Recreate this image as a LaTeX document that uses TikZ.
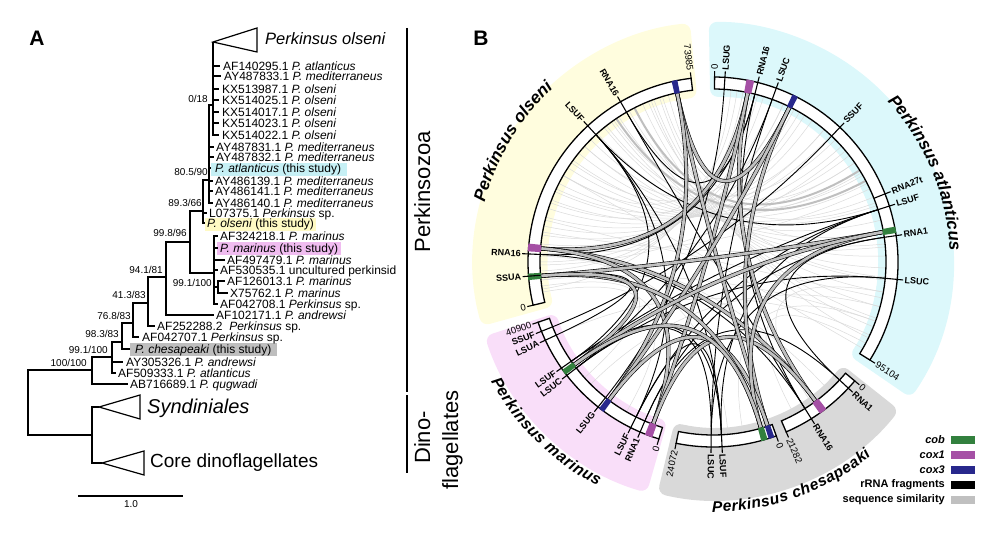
\documentclass[tikz,border=0pt]{standalone}
\usepackage{fontspec}
\setmainfont{Liberation Sans}
\usetikzlibrary{decorations.text}
\definecolor{cobc}{RGB}{50,128,62}
\definecolor{coxa}{RGB}{165,80,165}
\definecolor{coxc}{RGB}{40,40,140}
\definecolor{simg}{RGB}{192,192,192}
\definecolor{bgyel}{RGB}{255,253,222}
\definecolor{bgcya}{RGB}{220,248,251}
\definecolor{bgpnk}{RGB}{249,222,249}
\definecolor{bggry}{RGB}{217,217,217}
\definecolor{hlcya}{RGB}{198,240,245}
\definecolor{hlyel}{RGB}{255,250,196}
\definecolor{hlpnk}{RGB}{240,188,240}
\definecolor{hlgry}{RGB}{190,190,190}
\newcommand{\myleaf}{\fontsize{12}{12}\selectfont}
\newcommand{\mysupp}{\fontsize{10}{10}\selectfont}
\newcommand{\mytick}{\fontsize{9}{9}\selectfont\bfseries}
\newcommand{\mynum}{\fontsize{9.5}{9.5}\selectfont}
\newcommand{\myspec}{\fontsize{17}{17}\selectfont\bfseries\itshape}
\newcommand{\myspecb}{\fontsize{16}{16}\selectfont\bfseries\itshape}
\newcommand{\myspecc}{\fontsize{15.5}{15.5}\selectfont\bfseries\itshape}
\newcommand{\mylegend}{\fontsize{11}{11}\selectfont\bfseries}
\newcommand{\chd}[3][]{\draw[#1] (#2:173pt) .. controls (#2:57.7pt) and (#3:57.7pt) .. (#3:173pt);}
\newcommand{\annul}[5][]{\path[#1] (#2:#4) arc (#2:#3:#4) -- (#3:#5) arc (#3:#2:#5) -- cycle;}
\newcommand{\tickR}[2]{\draw[tk] (#1:173pt) -- (#1:191pt) node[tl, anchor=west, rotate=#1] {#2};}
\newcommand{\tickL}[2]{\draw[tk] (#1:173pt) -- (#1:191pt) node[tl, anchor=east, rotate=#1-180] {#2};}
\newcommand{\posR}[2]{\draw[tk] (#1:185pt) -- (#1:191pt) node[nl, anchor=west, rotate=#1] {#2};}
\newcommand{\posL}[2]{\draw[tk] (#1:185pt) -- (#1:191pt) node[nl, anchor=east, rotate=#1-180] {#2};}
\tikzset{
  br/.style={line width=1.2pt},
  leaf/.style={anchor=base west, inner sep=0pt, font=\myleaf},
  supp/.style={anchor=base east, inner sep=0pt, font=\mysupp},
  ring/.style={draw=black, line width=1.3pt, fill=white},
  blk/.style={draw=black, line width=0.9pt},
  simil/.style={draw=gray!28, line width=0.5pt},
  band/.style={draw=gray!50, line width=2pt},
  ribbon/.style={draw=black, line width=0.6pt, double=simg, double distance=2.8pt},
  tk/.style={line width=1.1pt},
  tl/.style={font=\mytick, inner sep=1pt},
  nl/.style={font=\mynum, inner sep=1pt},
  lgt/.style={font=\mylegend, anchor=east, inner sep=0pt}
}
\begin{document}
\begin{tikzpicture}[x=1pt,y=1pt]
\useasboundingbox (0,0) rectangle (1000,-537);

% ---------------- panel letters
\node[font=\fontsize{21}{21}\selectfont\bfseries] (pA) at (37,-38) {A};
\node[font=\fontsize{21}{21}\selectfont\bfseries] (pB) at (481,-38) {B};

% ---------------- tree
\fill[hlcya] (211,-163) rectangle (347,-176);
\fill[hlyel] (205,-218) rectangle (316,-231);
\fill[hlpnk] (217,-242) rectangle (341,-255);
\fill[hlgry] (130,-343) rectangle (277,-356);

\coordinate (root) at (28,-402);
\coordinate (n100) at (92,-370);
\coordinate (ndin) at (92,-435);
\coordinate (synA) at (99,-407);
\coordinate (corA) at (102,-463);
\coordinate (n991) at (112,-357);
\coordinate (n983) at (122,-342);
\coordinate (n768) at (133,-323);
\coordinate (n413) at (148,-303);
\coordinate (n941) at (166,-277);
\coordinate (n998) at (190,-242);
\coordinate (n893) at (203,-211);
\coordinate (n99b) at (214,-273);
\coordinate (nsub) at (218,-287);
\coordinate (n805) at (209,-180);
\coordinate (n018) at (213,-105);
\coordinate (olsA) at (213,-42);
\coordinate (t1) at (220,-66);
\coordinate (t2) at (221,-76);
\coordinate (t3) at (219,-89);
\coordinate (t4) at (219,-100);
\coordinate (t5) at (219,-112);
\coordinate (t6) at (219,-123);
\coordinate (t7) at (219,-135);
\coordinate (t8) at (214,-147);
\coordinate (t9) at (214,-157);
\coordinate (t10) at (211,-168);
\coordinate (t11) at (213,-181);
\coordinate (t12) at (213,-191);
\coordinate (t13) at (213,-203);
\coordinate (t14) at (207,-213);
\coordinate (t15) at (205,-223);
\coordinate (t16) at (218,-236);
\coordinate (t17) at (218,-248);
\coordinate (t18) at (225,-260);
\coordinate (t19) at (218,-270);
\coordinate (t20) at (225,-281);
\coordinate (t21) at (228,-293);
\coordinate (t22) at (218,-304);
\coordinate (t23) at (214,-315);
\coordinate (t24) at (155,-326);
\coordinate (t25) at (139,-337);
\coordinate (t26) at (130,-349);
\coordinate (t27) at (123,-362);
\coordinate (t28) at (116,-373);
\coordinate (t29) at (128,-384);

\draw[br] (root) |- (n100);
\draw[br] (root) |- (ndin);
\draw[br] (ndin) |- (synA);
\draw[br] (ndin) |- (corA);
\draw[br] (synA) -- (140,-395) -- (140,-419) -- cycle;
\draw[br] (corA) -- (144,-451) -- (144,-475) -- cycle;
\draw[br] (n100) |- (n991);
\draw[br] (n100) |- (t29);
\draw[br] (n991) |- (n983);
\draw[br] (n991) |- (t27);
\draw[br] (n991) |- (t28);
\draw[br] (n983) |- (n768);
\draw[br] (n983) |- (t26);
\draw[br] (n768) |- (n413);
\draw[br] (n768) |- (t25);
\draw[br] (n413) |- (n941);
\draw[br] (n413) |- (t24);
\draw[br] (n941) |- (n998);
\draw[br] (n941) |- (t23);
\draw[br] (n998) |- (n893);
\draw[br] (n998) |- (n99b);
\foreach \t in {t16,t17,t18,t19,nsub,t22} {\draw[br] (n99b) |- (\t);}
\draw[br] (nsub) |- (t20);
\draw[br] (nsub) |- (t21);
\draw[br] (n893) |- (n805);
\draw[br] (n893) |- (t14);
\draw[br] (n893) |- (t15);
\foreach \t in {n018,t8,t9,t10,t11,t12,t13} {\draw[br] (n805) |- (\t);}
\foreach \t in {olsA,t1,t2,t3,t4,t5,t6,t7} {\draw[br] (n018) |- (\t);}
\draw[br] (olsA) -- (257,-28) -- (257,-52) -- cycle;

\node[anchor=base west, inner sep=0pt, font=\fontsize{16.5}{16.5}\selectfont\itshape] (cOls) at (265,-44.5) {Perkinsus olseni};
\node[anchor=base west, inner sep=0pt, font=\fontsize{20}{20}\selectfont\itshape] (cSyn) at (147,-413) {Syndiniales};
\node[anchor=base west, inner sep=0pt, font=\fontsize{19}{19}\selectfont] (cCor) at (150,-467) {Core dinoflagellates};

\node[leaf] (L1) at (223,-70.3) {AF140295.1 \textit{P. atlanticus}};
\node[leaf] (L2) at (224,-80.3) {AY487833.1 \textit{P. mediterraneus}};
\node[leaf] (L3) at (222,-93.3) {KX513987.1 \textit{P. olseni}};
\node[leaf] (L4) at (222,-104.3) {KX514025.1 \textit{P. olseni}};
\node[leaf] (L5) at (222,-116.3) {KX514017.1 \textit{P. olseni}};
\node[leaf] (L6) at (222,-127.3) {KX514023.1 \textit{P. olseni}};
\node[leaf] (L7) at (222,-139.3) {KX514022.1 \textit{P. olseni}};
\node[leaf] (L8) at (216,-151.3) {AY487831.1 \textit{P. mediterraneus}};
\node[leaf] (L9) at (216,-161.3) {AY487832.1 \textit{P. mediterraneus}};
\node[leaf] (L10) at (215,-172.3) {\textit{P. atlanticus} (this study)};
\node[leaf] (L11) at (215,-185.3) {AY486139.1 \textit{P. mediterraneus}};
\node[leaf] (L12) at (215,-195.3) {AY486141.1 \textit{P. mediterraneus}};
\node[leaf] (L13) at (215,-207.3) {AY486140.1 \textit{P. mediterraneus}};
\node[leaf] (L14) at (209,-217.3) {L07375.1 \textit{Perkinsus} sp.};
\node[leaf] (L15) at (207,-227.3) {\textit{P. olseni} (this study)};
\node[leaf] (L16) at (220,-240.3) {AF324218.1 \textit{P. marinus}};
\node[leaf] (L17) at (220,-252.3) {\textit{P. marinus} (this study)};
\node[leaf] (L18) at (227,-264.3) {AF497479.1 \textit{P. marinus}};
\node[leaf] (L19) at (220,-274.3) {AF530535.1 uncultured perkinsid};
\node[leaf] (L20) at (227,-285.3) {AF126013.1 \textit{P. marinus}};
\node[leaf] (L21) at (230,-297.3) {X75762.1 \textit{P. marinus}};
\node[leaf] (L22) at (220,-308.3) {AF042708.1 \textit{Perkinsus} sp.};
\node[leaf] (L23) at (216,-319.3) {AF102171.1 \textit{P. andrewsi}};
\node[leaf] (L24) at (157,-330.3) {AF252288.2\ \ \textit{Perkinsus} sp.};
\node[leaf] (L25) at (142,-341.3) {AF042707.1 \textit{Perkinsus} sp.};
\node[leaf] (L26) at (135,-353.3) {\textit{P. chesapeaki} (this study)};
\node[leaf] (L27) at (126,-366.3) {AY305326.1 \textit{P. andrewsi}};
\node[leaf] (L28) at (118,-377.3) {AF509333.1 \textit{P. atlanticus}};
\node[leaf] (L29) at (130,-388.3) {AB716689.1 \textit{P. qugwadi}};

\node[supp] (s1) at (208,-102.6) {0/18};
\node[supp] (s2) at (208,-175.6) {80.5/90};
\node[supp] (s3) at (202,-206.6) {89.3/66};
\node[supp] (s4) at (187,-236.6) {99.8/96};
\node[supp] (s5) at (163,-273.6) {94.1/81};
\node[supp] (s6) at (146,-298.6) {41.3/83};
\node[supp] (s7) at (131,-319.6) {76.8/83};
\node[supp] (s8) at (119,-337.6) {98.3/83};
\node[supp] (s9) at (108,-353.6) {99.1/100};
\node[supp] (s10) at (87,-366.6) {100/100};
\node[supp] (s11) at (212,-286.6) {99.1/100};

\coordinate (sbL) at (78,-496);
\coordinate (sbR) at (183,-496);
\draw[line width=1.1pt] (sbL) -- (sbR);
\node[font=\mysupp] (sbT) at (131,-504) {1.0};

\coordinate (pzT) at (407,-28);
\coordinate (pzB) at (407,-392);
\coordinate (dnT) at (407,-395);
\coordinate (dnB) at (407,-473);
\draw[line width=1.2pt] (pzT) -- (pzB);
\draw[line width=1.2pt] (dnT) -- (dnB);
\node[rotate=90, anchor=base, inner sep=0pt, font=\fontsize{22}{22}\selectfont] (gPz) at (430,-192) {Perkinsozoa};
\node[rotate=90, anchor=base, inner sep=0pt, font=\fontsize{22}{22}\selectfont] (gD1) at (430,-437.5) {Dino-};
\node[rotate=90, anchor=base, inner sep=0pt, font=\fontsize{22}{22}\selectfont] (gD2) at (458,-440) {flagellates};

% ---------------- circos
\begin{scope}[shift={(713,-262)}]
\annul[fill=bgyel, rounded corners=8pt]{95.5}{195.5}{165pt}{240pt}
\annul[fill=bgcya, rounded corners=8pt]{91}{-34.5}{165pt}{240pt}
\annul[fill=bggry, rounded corners=8pt]{-38.5}{-103.5}{165pt}{238pt}
\annul[fill=bgpnk, rounded corners=8pt]{-106}{-162}{165pt}{240pt}
\fill[white] (0,0) circle (165pt);

\foreach \a/\b in {189/84, 186/80, 183/77, 180/73, 177/70, 174/66, 171/62, 168/58, 165/55, 162/50, 159/47, 156/42, 153/38, 150/35, 147/31, 144/27, 141/22, 138/19, 135/14, 132/10, 129/6, 126/2, 123/-2, 120/-6, 117/-10, 114/-15, 111/-19, 108/-22, 105/-26, 181/40, 176/25, 170/5, 166/-12, 160/75, 155/60, 150/82, 145/66, 138/50, 128/30, 125/45, 119/20, 112/8, 107/35, 110/-5, 186/-20, 175/-48, 150/-30, -15/225, -25/205, -10/-55, -20/-80, -28/-62, 190/240, 188/222, 178/-85}
  {\chd[simil]{\a}{\b}}
\chd[band]{117}{32}
\chd[band]{124}{28}

\foreach \a/\b in {132.6/17.6, 132.6/-87.2, 132.6/243.6, 132.6/215, 17.6/-87.2, 17.6/243.6, 17.6/215, -87.2/243.6, -87.2/215, 70/-90.6, 70/217.8, -5.4/-90.6, -5.4/217.8, -90.6/217.8, 86.3/231.6, 177.5/76, 177.5/-57.9, 120/76, 120/-57.9, 76/-57.9, 8.2/-43, 8.2/246.8, -43/246.8, 46.7/202, 184.4/205}
  {\chd[blk]{\a}{\b}}

\foreach \a/\b in {175.5/78.4, 175.5/-53.6, 175.5/249.7, 78.4/-53.6, 78.4/249.7, -53.6/249.7, 102/63.7, 102/-71.6, 102/233, 63.7/-71.6, 63.7/233, -71.6/233, 184.6/10, 184.6/-73.9, 184.6/216.5, 10/-73.9, 10/216.5, -73.9/216.5}
  {\chd[ribbon]{\a}{\b}}

% ring segments
\annul[ring]{193.5}{96.8}{173pt}{185pt}
\annul[ring]{89.5}{-32}{173pt}{185pt}
\annul[ring]{-40}{-66.7}{173pt}{185pt}
\annul[ring]{-70}{-101.5}{173pt}{185pt}
\annul[ring]{-107}{-161}{173pt}{185pt}

% gene blocks
\annul[fill=coxa]{174.3}{176.7}{172.4pt}{185.6pt}
\annul[fill=coxa]{77.2}{79.6}{172.4pt}{185.6pt}
\annul[fill=coxa]{-54.8}{-52.4}{172.4pt}{185.6pt}
\annul[fill=coxa]{248.5}{250.9}{172.4pt}{185.6pt}
\annul[fill=coxc]{101.1}{102.9}{172.4pt}{185.6pt}
\annul[fill=coxc]{62.8}{64.6}{172.4pt}{185.6pt}
\annul[fill=coxc]{-72.5}{-70.7}{172.4pt}{185.6pt}
\annul[fill=coxc]{232.1}{233.9}{172.4pt}{185.6pt}
\annul[fill=cobc]{183.6}{185.6}{172.4pt}{185.6pt}
\annul[fill=cobc]{9}{11}{172.4pt}{185.6pt}
\annul[fill=cobc]{-74.9}{-72.9}{172.4pt}{185.6pt}
\annul[fill=cobc]{215.6}{217.4}{172.4pt}{185.6pt}

% feature ticks
\tickL{184.4}{SSUA}
\tickL{177.5}{RNA16}
\tickL{132.6}{LSUF}
\tickL{120}{RNA16}
\tickR{86.3}{LSUG}
\tickR{76}{RNA16}
\tickR{70}{LSUC}
\tickR{46.7}{SSUF}
\tickR{21.6}{RNA27t}
\tickR{17.6}{LSUF}
\tickR{8.2}{RNA1}
\tickR{-5.4}{LSUC}
\tickR{-43}{RNA1}
\tickR{-57.9}{RNA16}
\tickR{-87.2}{LSUF}
\tickR{-90.6}{LSUC}
\tickL{246.8}{RNA1}
\tickL{243.6}{LSUF}
\tickL{231.6}{LSUG}
\tickL{215}{LSUF}
\tickL{217.8}{LSUC}
\tickL{205}{LSUA}
\tickL{202}{SSUF}

% position labels
\posL{193.5}{0}
\posL{96.8}{73985}
\posR{89.5}{0}
\posR{-32}{95104}
\posR{-40}{0}
\posR{-66.7}{21282}
\posR{-70}{0}
\posL{-101.5}{24072}
\posL{-107}{0}
\posL{-161}{40900}

% species labels
\path[decorate, decoration={text along path, text align=center, text={|\myspec|Perkinsus olseni}}] (179:236pt) arc (179:119:236pt);
\path[decorate, decoration={text along path, text align=center, text={|\myspec|Perkinsus atlanticus}}] (62.7:237pt) arc (62.7:-17.3:237pt);
\path[decorate, decoration={text effects along path, text={Perkinsus chesapeaki}, text effects/.cd, text along path, fit text to path, characters={font=\myspecc, inner sep=0pt, anchor=base}}] (-90.2:250pt) arc (-90.2:-50.8:250pt);
\path[decorate, decoration={text effects along path, text={Perkinsus marinus}, text effects/.cd, text along path, fit text to path, characters={font=\myspecb, inner sep=0pt, anchor=base}}] (208.2:252pt) arc (208.2:242.8:252pt);
\end{scope}

% ---------------- legend
\node[lgt] (lg1) at (945,-440) {\textit{cob}};
\node[lgt] (lg2) at (945,-455) {\textit{cox1}};
\node[lgt] (lg3) at (945,-470) {\textit{cox3}};
\node[lgt] (lg4) at (945,-485) {rRNA fragments};
\node[lgt] (lg5) at (945,-500) {sequence similarity};
\fill[cobc] (951,-436) rectangle (975,-444);
\fill[coxa] (951,-451) rectangle (975,-459);
\fill[coxc] (951,-466) rectangle (975,-474);
\fill[black] (951,-481) rectangle (975,-489);
\fill[simg] (951,-496) rectangle (975,-504);
\end{tikzpicture}
\end{document}
